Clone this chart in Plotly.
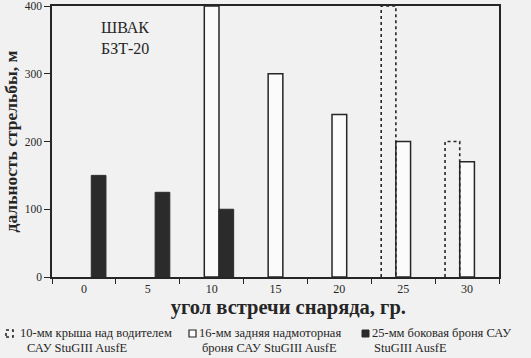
import plotly.graph_objects as go

# Data
angles = ["0", "5", "10", "15", "20", "25", "30"]
roof_10mm = [None, None, None, None, None, 400, 200]      # dotted outline bars
rear_16mm = [None, None, 400, 300, 240, 200, 170]         # white bars
side_25mm = [150, 125, 100, None, None, None, None]       # black bars

legend_lines = [
    ["10-мм крыша над водителем", "САУ StuGIII AusfE"],
    ["16-мм задняя надмоторная", "броня САУ StuGIII AusfE"],
    ["25-мм боковая броня САУ", "StuGIII AusfE"],
]

FONT = "Liberation Serif"
INK = "#262626"
BG = "#f1f1f1"
BARGAP = 0.31
N_SERIES = 3

fig = go.Figure()
fig.add_bar(x=angles, y=roof_10mm, name=" ".join(legend_lines[0]),
            marker=dict(color="rgba(0,0,0,0)", line=dict(width=0)))
fig.add_bar(x=angles, y=rear_16mm, name=" ".join(legend_lines[1]),
            marker=dict(color="#fbfbfb", line=dict(color=INK, width=1.5)))
fig.add_bar(x=angles, y=side_25mm, name=" ".join(legend_lines[2]),
            marker=dict(color="#2b2b2b", line=dict(color="#2b2b2b", width=1)))

# Dotted outlines for the first series (plotly bar outlines cannot be dashed)
group_w = 1 - BARGAP
bar_w = group_w / N_SERIES
for i, v in enumerate(roof_10mm):
    if v is None:
        continue
    x0 = i - group_w / 2
    x1 = x0 + bar_w
    fig.add_shape(type="path",
                  path=f"M {x0} 0 L {x0} {v} L {x1} {v} L {x1} 0",
                  xref="x", yref="y",
                  line=dict(color=INK, width=1.6, dash="dot"))

# Manual legend (pixel-placed symbols + text)
W, H = 531, 358
ML, MR, MT, MB = 52, 32, 6, 81
pw, ph = W - ML - MR, H - MT - MB

def px_x(p):
    return (p - ML) / pw

def px_y(p):
    return (H - MB - p) / ph

sym_x = [6, 189, 362]
text_x = [[18, 25], [197, 200], [370, 372]]
line_y = [333, 348]
styles = [
    dict(line=dict(color=INK, width=1.6, dash="dot"), fillcolor="rgba(0,0,0,0)"),
    dict(line=dict(color=INK, width=1.2), fillcolor="#fbfbfb"),
    dict(line=dict(color="#2b2b2b", width=1), fillcolor="#2b2b2b"),
]
for sx, tx, st, lines in zip(sym_x, text_x, styles, legend_lines):
    fig.add_shape(type="rect", xref="paper", yref="paper",
                  x0=px_x(sx), x1=px_x(sx + 7),
                  y0=px_y(line_y[0] + 4), y1=px_y(line_y[0] - 3), **st)
    for lx, ly, txt in zip(tx, line_y, lines):
        fig.add_annotation(xref="paper", yref="paper",
                           x=px_x(lx), y=px_y(ly),
                           xanchor="left", yanchor="middle", align="left",
                           text=txt, showarrow=False,
                           font=dict(family=FONT, size=12.5, color=INK))

fig.add_annotation(xref="paper", yref="paper", x=px_x(99), y=px_y(17),
                   xanchor="left", yanchor="top", align="left",
                   text="ШВАК<br>БЗТ-20", showarrow=False,
                   font=dict(family=FONT, size=16, color=INK))

fig.update_layout(
    width=W, height=H,
    margin=dict(l=ML, r=MR, t=MT, b=MB),
    paper_bgcolor=BG, plot_bgcolor=BG,
    barmode="group", bargap=BARGAP, bargroupgap=0,
    showlegend=False,
    font=dict(family=FONT, color=INK),
    xaxis=dict(
        type="category", tickson="boundaries", ticks="outside", ticklen=5,
        tickwidth=1.3, tickcolor=INK, automargin=False,
        showline=True, linecolor=INK, linewidth=1.5, mirror=True,
        showgrid=False, zeroline=False,
        tickfont=dict(family=FONT, size=12, color=INK),
        title=dict(text="&nbsp;&nbsp;&nbsp;&nbsp;&nbsp;<b>угол встречи снаряда, гр.</b>",
                   standoff=3,
                   font=dict(family=FONT, size=20.5, color=INK)),
    ),
    yaxis=dict(
        range=[0, 400], tickvals=[0, 100, 200, 300, 400],
        ticks="outside", ticklen=6, tickwidth=1.3, tickcolor=INK,
        automargin=False, ticklabeloverflow="allow",
        showline=True, linecolor=INK, linewidth=1.5, mirror=True,
        showgrid=False, zeroline=False,
        tickfont=dict(family=FONT, size=11.5, color=INK),
        title=dict(text="<b>дальность стрельбы, м</b>", standoff=3,
                   font=dict(family=FONT, size=17.5, color=INK)),
    ),
)

fig.write_html("out.html",
               config={"displayModeBar": False},
               post_script="document.body.style.margin='0';")
